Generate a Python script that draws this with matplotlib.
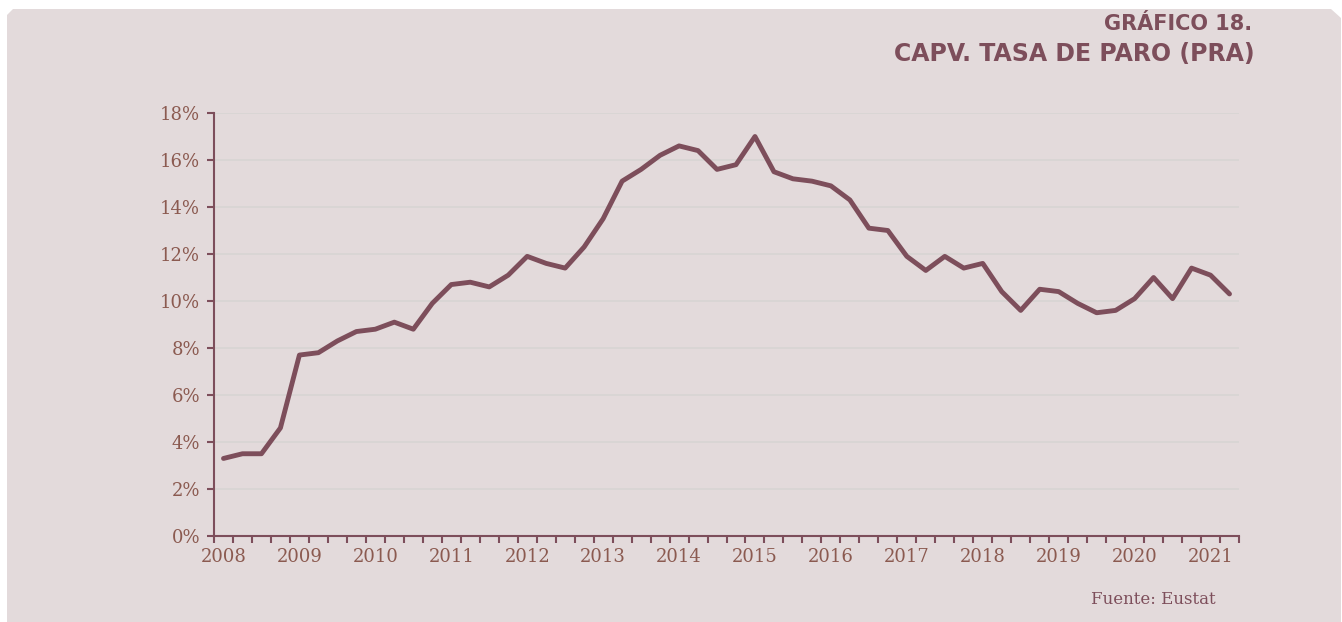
import matplotlib

matplotlib.use("Agg")
import matplotlib.pyplot as plt  # noqa: E402
import numpy as np  # noqa: E402
from matplotlib.patches import Polygon  # noqa: E402
from matplotlib.ticker import FixedLocator, FuncFormatter  # noqa: E402

# quarterly unemployment rate (PRA), 2008 Q1 .. 2021 Q2
years = list(range(2008, 2022))
quarters = [f"{y}T{q}" for y in years for q in range(1, 5)][:54]
rate = [
    3.3, 3.5, 3.5, 4.6,
    7.7, 7.8, 8.3, 8.7,
    8.8, 9.1, 8.8, 9.9,
    10.7, 10.8, 10.6, 11.1,
    11.9, 11.6, 11.4, 12.3,
    13.5, 15.1, 15.6, 16.2,
    16.6, 16.4, 15.6, 15.8,
    17.0, 15.5, 15.2, 15.1,
    14.9, 14.3, 13.1, 13.0,
    11.9, 11.3, 11.9, 11.4,
    11.6, 10.4, 9.6, 10.5,
    10.4, 9.9, 9.5, 9.6,
    10.1, 11.0, 10.1, 11.4,
    11.1, 10.3,
]

BG = "#e3dadb"
LINE = "#7d4e5b"
TEXT = "#8b5a50"
GRID = "#d8d5d3"

W, H = 1342, 622
fig = plt.figure(figsize=(W / 100, H / 100), dpi=100)
fig.patch.set_facecolor("white")

# panel with chamfered top corners
px = np.array([7, 13, 1331, 1341, 1341, 7]) / W
py = 1 - np.array([15, 9, 9, 18, 622, 622]) / H
fig.patches.append(Polygon(np.column_stack([px, py]), closed=True, transform=fig.transFigure,
                           facecolor=BG, edgecolor="none", zorder=-10))

ax = fig.add_axes([214 / W, 86 / H, (1239 - 214) / W, (536 - 113) / H])
ax.set_facecolor("none")
ax.set_zorder(5)

x = np.arange(len(rate))
ax.plot(x, rate, color=LINE, linewidth=3.5, solid_joinstyle="round", solid_capstyle="round", zorder=3)

ax.set_xlim(-0.5, len(rate) - 0.5)
ax.set_ylim(0, 18)

ax.set_yticks(np.arange(0, 19, 2))
ax.yaxis.set_major_formatter(FuncFormatter(lambda v, _: f"{v:.0f}%"))
ax.grid(axis="y", color=GRID, linewidth=1.2, zorder=1)

year_pos = [i for i, q in enumerate(quarters) if q.endswith("T1")]
ax.set_xticks(year_pos)
ax.set_xticklabels([q[:4] for q in quarters if q.endswith("T1")])
ax.xaxis.set_minor_locator(FixedLocator(np.arange(-0.5, len(rate), 1.0)))
ax.tick_params(axis="x", which="major", length=0, pad=9)
ax.tick_params(axis="x", which="minor", length=5, width=1.5, color=LINE, direction="out")
ax.tick_params(axis="y", length=5, width=1.5, color=LINE, direction="out", pad=5)

for lab in ax.get_xticklabels() + ax.get_yticklabels():
    lab.set_fontfamily("DejaVu Serif")
    lab.set_fontsize(13)
    lab.set_color(TEXT)

for side in ("top", "right"):
    ax.spines[side].set_visible(False)
for side in ("left", "bottom"):
    ax.spines[side].set_color(LINE)
    ax.spines[side].set_linewidth(1.5)

fig.text(1252 / W, 1 - 24 / H, "GRÁFICO 18.", ha="right", va="center",
         fontsize=15, fontweight="heavy", color=LINE, family="DejaVu Sans")
fig.text(1255 / W, 1 - 54 / H, "CAPV. TASA DE PARO (PRA)", ha="right", va="center",
         fontsize=17, fontweight="heavy", color=LINE, family="DejaVu Sans")
fig.text(1153 / W, 1 - 600 / H, "Fuente: Eustat", ha="center", va="center",
         fontsize=12, color=LINE, family="DejaVu Serif")

fig.savefig("out.png", dpi=100, facecolor=fig.get_facecolor())
